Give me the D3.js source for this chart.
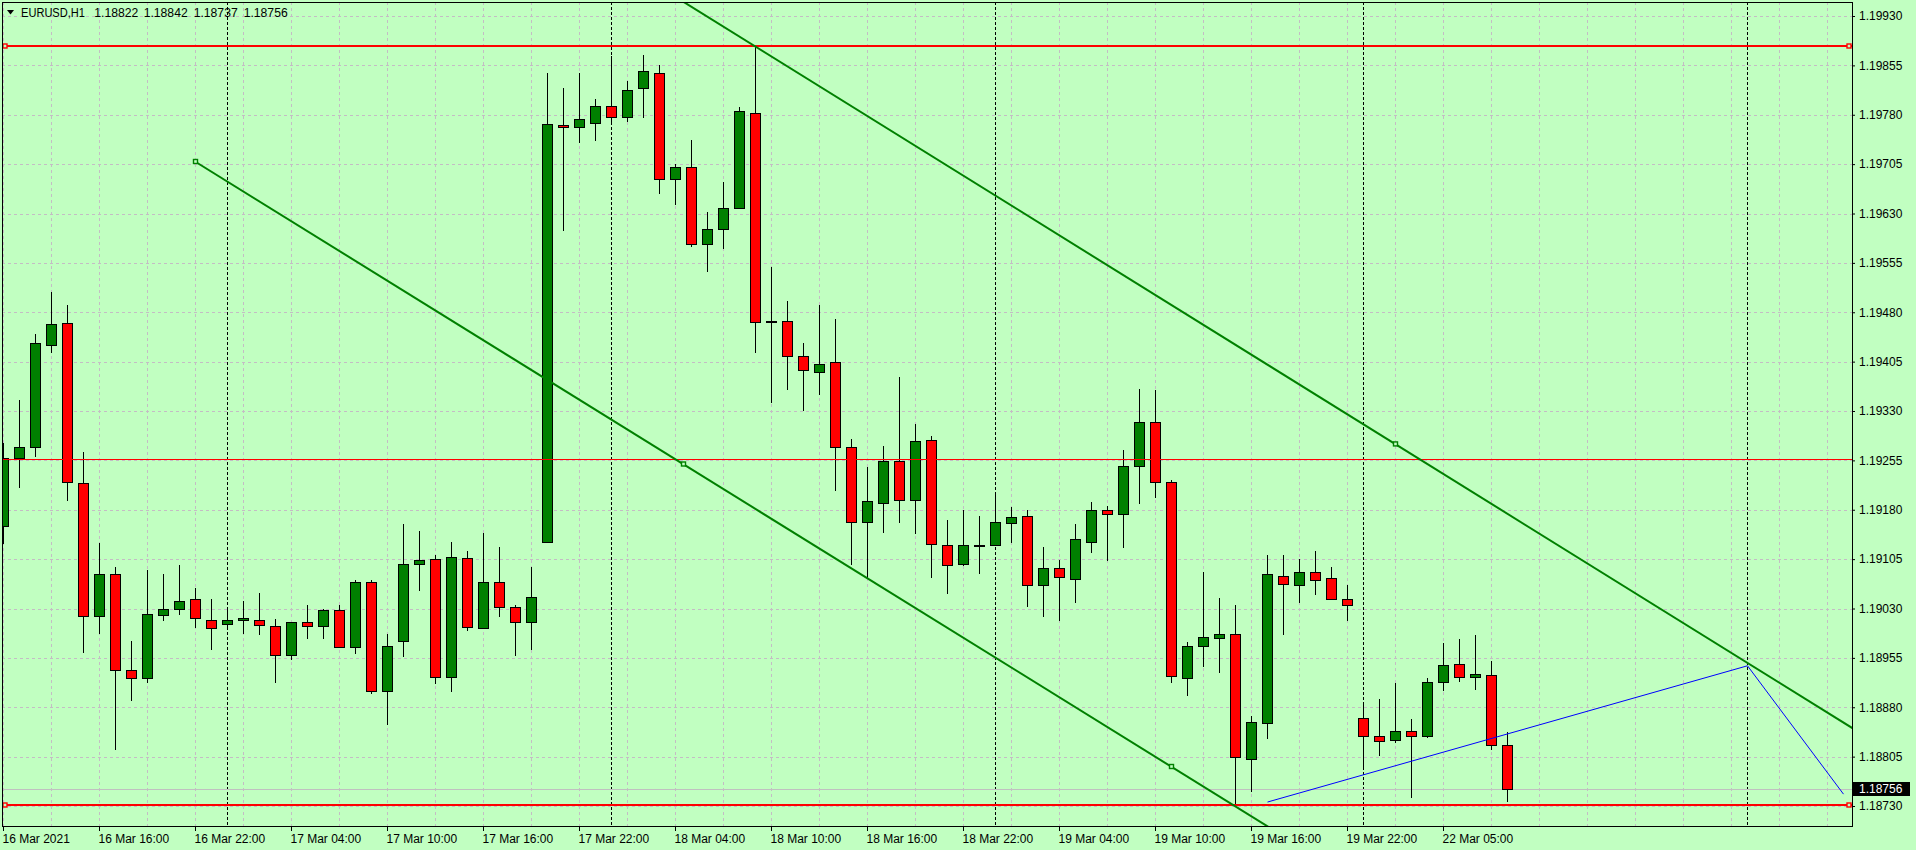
<!DOCTYPE html>
<html><head><meta charset="utf-8">
<script src="https://cdn.jsdelivr.net/npm/d3@7"></script>
<style>html,body{margin:0;padding:0;background:#C1FFC1;overflow:hidden}svg{display:block}</style>
</head><body><svg id="c" width="1916" height="850"></svg>
<script>
// ---------------- DATA ----------------
const symbolTitle = "EURUSD,H1";
const headerQuote = ["1.18822", "1.18842", "1.18737", "1.18756"]; // O H L C of last bar
const openP = [1.19156,1.19258,1.19275,1.19431,1.19463,1.19220,1.19018,1.19083,1.18936,1.18924,
1.19020,1.19030,1.19044,1.19012,1.19006,1.19012,1.19012,1.19003,1.18960,1.19009,
1.19003,1.19027,1.18971,1.19070,1.18904,1.18980,1.19097,1.19105,1.18926,1.19106,
1.19000,1.19070,1.19032,1.19009,1.19131,1.19765,1.19762,1.19767,1.19794,1.19776,
1.19820,1.19844,1.19683,1.19700,1.19583,1.19606,1.19639,1.19783,1.19467,1.19466,
1.19414,1.19390,1.19405,1.19275,1.19161,1.19190,1.19254,1.19195,1.19286,1.19126,
1.19097,1.19126,1.19126,1.19160,1.19170,1.19065,1.19091,1.19075,1.19131,1.19179,
1.19173,1.19246,1.19314,1.19222,1.18925,1.18973,1.18985,1.18992,1.18802,1.18856,
1.19079,1.19065,1.19086,1.19077,1.19044,1.18863,1.18837,1.18830,1.18844,1.18837,
1.18918,1.18945,1.18926,1.18929,1.18822];
const highP = [1.19281,1.19347,1.19447,1.19510,1.19491,1.19267,1.19129,1.19093,1.18981,1.19089,
1.19082,1.19096,1.19061,1.19044,1.19032,1.19041,1.19053,1.19014,1.19009,1.19035,
1.19030,1.19035,1.19073,1.19073,1.18991,1.19158,1.19148,1.19111,1.19131,1.19117,
1.19145,1.19123,1.19035,1.19093,1.19843,1.19820,1.19844,1.19804,1.19869,1.19831,
1.19870,1.19855,1.19705,1.19742,1.19632,1.19678,1.19792,1.19884,1.19549,1.19497,
1.19433,1.19491,1.19470,1.19287,1.19245,1.19277,1.19382,1.19310,1.19292,1.19164,
1.19180,1.19171,1.19204,1.19184,1.19180,1.19123,1.19104,1.19158,1.19192,1.19185,
1.19271,1.19364,1.19362,1.19225,1.18979,1.19085,1.19046,1.19035,1.18867,1.19111,
1.19111,1.19105,1.19117,1.19093,1.19066,1.18885,1.18893,1.18917,1.18862,1.18924,
1.18978,1.18984,1.18990,1.18950,1.18842];
const lowP = [1.19129,1.19215,1.19262,1.19420,1.19195,1.18964,1.18993,1.18816,1.18891,1.18919,
1.19012,1.19021,1.19002,1.18969,1.18999,1.18993,1.18991,1.18919,1.18953,1.18985,
1.18985,1.18971,1.18962,1.18902,1.18855,1.18958,1.19058,1.18917,1.18905,1.18997,
1.19000,1.19019,1.18959,1.18969,1.19131,1.19605,1.19738,1.19742,1.19768,1.19771,
1.19776,1.19661,1.19645,1.19580,1.19542,1.19577,1.19639,1.19420,1.19343,1.19364,
1.19332,1.19356,1.19210,1.19097,1.19077,1.19146,1.19161,1.19145,1.19078,1.19054,
1.19096,1.19084,1.19126,1.19131,1.19034,1.19019,1.19012,1.19040,1.19116,1.19103,
1.19124,1.19191,1.19200,1.18919,1.18898,1.18942,1.18933,1.18732,1.18753,1.18834,
1.18992,1.19040,1.19052,1.19044,1.19013,1.18790,1.18808,1.18827,1.18743,1.18835,
1.18906,1.18920,1.18907,1.18816,1.18737];
const closeP = [1.19259,1.19276,1.19433,1.19462,1.19222,1.19018,1.19082,1.18937,1.18924,1.19021,
1.19030,1.19041,1.19015,1.19000,1.19012,1.19015,1.19005,1.18960,1.19009,1.19003,
1.19027,1.18971,1.19070,1.18904,1.18973,1.19097,1.19104,1.18926,1.19108,1.19002,
1.19071,1.19032,1.19009,1.19047,1.19766,1.19762,1.19773,1.19794,1.19776,1.19817,
1.19846,1.19683,1.19700,1.19583,1.19606,1.19639,1.19785,1.19465,1.19466,1.19414,
1.19392,1.19402,1.19275,1.19161,1.19193,1.19254,1.19195,1.19284,1.19128,1.19096,
1.19126,1.19127,1.19162,1.19169,1.19065,1.19091,1.19078,1.19135,1.19179,1.19173,
1.19246,1.19313,1.19222,1.18927,1.18973,1.18986,1.18992,1.18804,1.18857,1.19082,
1.19067,1.19085,1.19074,1.19044,1.19036,1.18837,1.18828,1.18844,1.18837,1.18918,
1.18944,1.18926,1.18930,1.18822,1.18756];
const priceTicks = [1.18730,1.18805,1.18880,1.18955,1.19030,1.19105,1.19180,1.19255,1.19330,
1.19405,1.19480,1.19555,1.19630,1.19705,1.19780,1.19855,1.19930];
const timeTickBars = [0,6,12,18,24,30,36,42,48,54,60,66,72,78,84,90];
const timeTickLabels = ["16 Mar 2021","16 Mar 16:00","16 Mar 22:00","17 Mar 04:00","17 Mar 10:00",
"17 Mar 16:00","17 Mar 22:00","18 Mar 04:00","18 Mar 10:00","18 Mar 16:00","18 Mar 22:00",
"19 Mar 04:00","19 Mar 10:00","19 Mar 16:00","19 Mar 22:00","22 Mar 05:00"];
const daySeparatorBars = [14,38,62,85,109];
const levelPrices = [1.19884, 1.19257, 1.18732];
const bidPrice = 1.18756;
const upperChannel = [[47,1.19884],[87,1.19280]];
const lowerChannel = [[12,1.19709],[73,1.18790]];
const bluePolyline = [[79,1.18736],[109,1.18943],[115,1.18748]];

// ---------------- LAYOUT / STYLE ----------------
const W = 1916, H = 850;
const L = 2, R = 1852, T = 2, B = 826;
const BG = "#C1FFC1", GRID = "#c4bcc4";
const FONT = "'Liberation Sans', Arial, sans-serif";
const levelWidths = [2, 1, 2];
const levelMarkers = [true, false, true];
const headerX = [21, 94.3, 143.7, 193.7, 243.7];
const headerW = [64, 44, 44, 44, 44];

const svg = d3.select("#c");
svg.append("rect").attr("width", W).attr("height", H).attr("fill", BG);

const x = d3.scaleLinear().domain([0, 1]).range([3, 19]);
const y = d3.scaleLinear().domain([1.18730, 1.19930]).range([806, 16]);

svg.append("defs").append("clipPath").attr("id", "plot")
  .append("rect").attr("x", L + 0.5).attr("y", T + 0.5).attr("width", R - L).attr("height", B - T);

const g = svg.append("g").attr("clip-path", "url(#plot)");

// grid
const maxBar = Math.floor((R - 3) / 16);
const gridBars = d3.range(0, maxBar + 1, 3);
g.selectAll("line.vg").data(gridBars).join("line")
  .attr("x1", d => Math.round(x(d)) + 0.5).attr("x2", d => Math.round(x(d)) + 0.5)
  .attr("y1", T).attr("y2", B)
  .attr("stroke", GRID).attr("stroke-dasharray", "3,3");
g.selectAll("line.hg").data(priceTicks).join("line")
  .attr("x1", L).attr("x2", R)
  .attr("y1", d => Math.round(y(d)) + 0.5).attr("y2", d => Math.round(y(d)) + 0.5)
  .attr("stroke", GRID).attr("stroke-dasharray", "3,3");

// day separators
g.selectAll("line.sep").data(daySeparatorBars).join("line")
  .attr("x1", d => Math.round(x(d)) + 0.5).attr("x2", d => Math.round(x(d)) + 0.5)
  .attr("y1", T).attr("y2", B)
  .attr("stroke", "#000").attr("stroke-dasharray", "3,2");

// bid line
g.append("line").attr("x1", L).attr("x2", R)
  .attr("y1", Math.round(y(bidPrice)) + 0.5).attr("y2", Math.round(y(bidPrice)) + 0.5)
  .attr("stroke", "#c0c0c0");

// candles
const bars = d3.range(openP.length).map(i => ({i, o: openP[i], h: highP[i], l: lowP[i], c: closeP[i]}));
const cg = g.append("g");
bars.forEach(b => {
  const cx = Math.round(x(b.i)) + 0.5;
  cg.append("line").attr("x1", cx).attr("x2", cx)
    .attr("y1", Math.round(y(b.h))).attr("y2", Math.round(y(b.l)) + 1)
    .attr("stroke", "#000");
  const yt = Math.round(y(Math.max(b.o, b.c)));
  const yb = Math.round(y(Math.min(b.o, b.c)));
  cg.append("rect").attr("x", cx - 5).attr("y", yt + 0.5)
    .attr("width", 10).attr("height", Math.max(1, yb - yt))
    .attr("fill", b.c >= b.o ? "#008000" : "#FF0000")
    .attr("stroke", "#000");
});

// horizontal levels
levelPrices.forEach((p, k) => {
  const yy = Math.round(y(p)) + (levelWidths[k] === 1 ? 0.5 : 0);
  g.append("line").attr("x1", L).attr("x2", R).attr("y1", yy).attr("y2", yy)
    .attr("stroke", "#FF0000").attr("stroke-width", levelWidths[k]);
});

// trend lines
function lineThrough(a, b, x0, x1) {
  const xa = x(a[0]), ya = y(a[1]), xb = x(b[0]), yb = y(b[1]);
  const s = (yb - ya) / (xb - xa);
  return [[x0, ya + s * (x0 - xa)], [x1, ya + s * (x1 - xa)]];
}
const lineGen = d3.line();
g.append("path").attr("d", lineGen(lineThrough(upperChannel[0], upperChannel[1], 0, 2000)))
  .attr("stroke", "#008000").attr("stroke-width", 2).attr("fill", "none");
g.append("path").attr("d", lineGen(lineThrough(lowerChannel[0], lowerChannel[1], x(lowerChannel[0][0]), 2000)))
  .attr("stroke", "#008000").attr("stroke-width", 2).attr("fill", "none");
g.append("path").attr("d", lineGen(bluePolyline.map(d => [x(d[0]) + 0.5, y(d[1])])))
  .attr("stroke", "#0000FF").attr("stroke-width", 1).attr("fill", "none");

// markers
function marker(px, py, col) {
  g.append("rect").attr("x", px - 2).attr("y", py - 2).attr("width", 4).attr("height", 4)
    .attr("fill", BG).attr("stroke", col).attr("stroke-width", 1.4);
}
const lowMid = [(lowerChannel[0][0] + lowerChannel[1][0]) / 2, (lowerChannel[0][1] + lowerChannel[1][1]) / 2];
[lowerChannel[0], lowMid, lowerChannel[1]].forEach(d => marker(x(d[0]) + 0.5, y(d[1]), "#008000"));
marker(x(upperChannel[1][0]) + 0.5, y(upperChannel[1][1]), "#008000");
levelPrices.forEach((p, k) => {
  if (!levelMarkers[k]) return;
  marker(5, Math.round(y(p)), "#FF0000");
  marker(1849, Math.round(y(p)), "#FF0000");
});

// header
g.append("path").attr("d", "M7,10 L14,10 L10.5,14.5 Z").attr("fill", "#000");
[symbolTitle].concat(headerQuote).forEach((t, k) => {
  g.append("text").attr("x", headerX[k]).attr("y", 17).attr("font-family", FONT).attr("font-size", 12)
    .attr("fill", "#000").attr("textLength", headerW[k]).attr("lengthAdjust", "spacingAndGlyphs")
    .text(t);
});

// frame
svg.append("rect").attr("x", L + 0.5).attr("y", T + 0.5).attr("width", R - L).attr("height", B - T)
  .attr("fill", "none").attr("stroke", "#000");

// price axis
const yAxis = d3.axisRight(y).tickValues(priceTicks).tickFormat(d3.format(".5f")).tickSize(3).tickPadding(4);
const ya = svg.append("g").attr("transform", `translate(${R},0)`).call(yAxis);
ya.select(".domain").remove();
ya.selectAll("text").attr("font-family", FONT).attr("font-size", 12).attr("fill", "#000");
ya.selectAll("line").attr("stroke", "#000");

// time axis
const xAxis = d3.axisBottom(x).tickValues(timeTickBars).tickFormat((d, k) => timeTickLabels[k]).tickSize(5).tickPadding(3);
const xa = svg.append("g").attr("transform", `translate(0,${B})`).call(xAxis);
xa.select(".domain").remove();
xa.selectAll("text").attr("font-family", FONT).attr("font-size", 12).attr("fill", "#000")
  .attr("text-anchor", "start").attr("x", -1);
xa.selectAll("line").attr("stroke", "#000");

// current price label
const yb = y(bidPrice);
svg.append("rect").attr("x", R + 1).attr("y", Math.round(yb) - 7).attr("width", 57).attr("height", 14).attr("fill", "#000");
svg.append("text").attr("x", R + 7).attr("y", yb + 4.3).attr("font-family", FONT).attr("font-size", 12)
  .attr("fill", "#fff").text(d3.format(".5f")(bidPrice));
</script></body></html>
